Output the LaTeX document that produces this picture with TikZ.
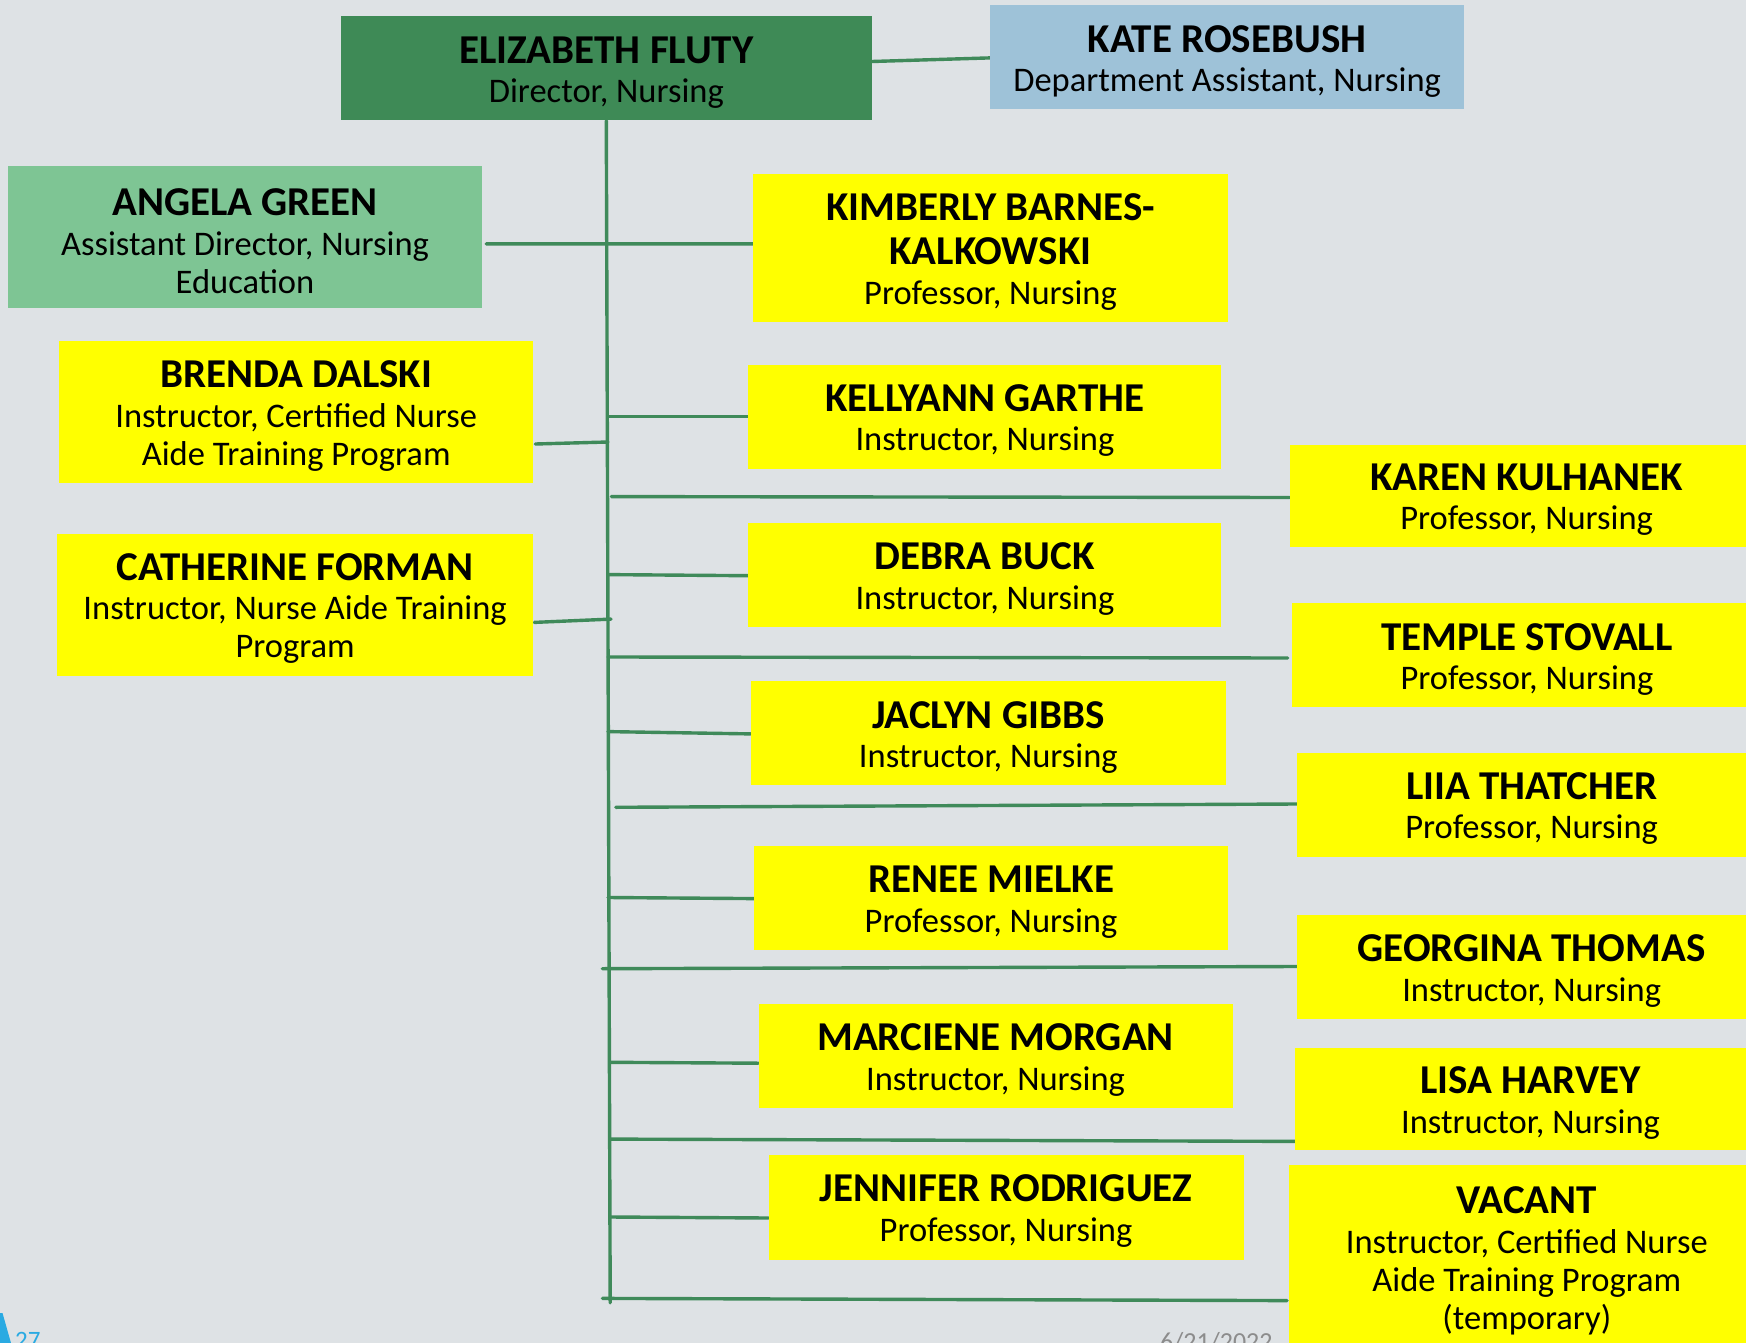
\documentclass[tikz,border=0pt]{standalone}
\usepackage{fontspec}
\setmainfont{Carlito}
\usetikzlibrary{positioning}

\definecolor{pagebg}{HTML}{DEE2E5}
\definecolor{darkgreen}{HTML}{3E8A56}
\definecolor{softgreen}{HTML}{7EC594}
\definecolor{softblue}{HTML}{9EC2D8}
\definecolor{linkgreen}{HTML}{3F8A5A}
\definecolor{boxyellow}{HTML}{FFFF00}
\definecolor{accentblue}{HTML}{2AAAE2}
\definecolor{dategray}{HTML}{8C8C8C}

\newcommand\namefont{\fontsize{41}{44}\selectfont\bfseries}
\newcommand\subfont{\fontsize{34.5}{38}\selectfont}
% name line with a strut on top so the text block sits a little lower
\newcommand\pname[1]{{\namefont\rule{0pt}{35pt}#1}\\[1.5pt]}

\pgfdeclarelayer{bg}
\pgfdeclarelayer{links}
\pgfsetlayers{bg,links,main}

\tikzset{
  card/.style={rectangle, inner sep=0pt, align=center, text=black, font=\subfont},
  ycard/.style={card, fill=boxyellow},
  link/.style={draw=linkgreen, line width=3.4pt, line cap=round},
}

\begin{document}
\begin{tikzpicture}[x=1pt, y=-1pt]
  \useasboundingbox (0,0) rectangle (1746,1343);
  \clip (0,0) rectangle (1746,1343);
  \begin{pgfonlayer}{bg}
    \fill[pagebg] (0,0) rectangle (1746,1343);
  \end{pgfonlayer}

  % top of the chart
  \node[card, fill=darkgreen, minimum width=531pt, minimum height=104pt] (eliz) at (606.3,68.5)
    {\pname{ELIZABETH FLUTY}Director, Nursing};
  \node[card, fill=softblue, minimum width=474pt, minimum height=104pt] (kate) at (1227.1,57.4)
    {\pname{KATE ROSEBUSH}Department Assistant, Nursing};
  \node[card, fill=softgreen, minimum width=474pt, minimum height=142pt] (angela) at (245,237.2)
    {\pname{ANGELA GREEN}Assistant Director, Nursing\\Education};

  % left column
  \node[ycard, minimum width=474pt, minimum height=142pt] (brenda) at (296.2,412)
    {\pname{BRENDA DALSKI}Instructor, Certified Nurse\\Aide Training Program};
  \node[ycard, minimum width=476pt, minimum height=142pt] (catherine) at (295.1,604.7)
    {\pname{CATHERINE FORMAN}Instructor, Nurse Aide Training\\Program};

  % middle column
  \node[ycard, minimum width=475pt, minimum height=148pt] (kimberly) at (990.5,247.8)
    {{\namefont\rule{0pt}{35pt}KIMBERLY BARNES-}\\[6pt]{\namefont KALKOWSKI}\\[1.5pt]Professor, Nursing};
  \node[ycard, minimum width=473pt, minimum height=104pt] (kellyann) at (984.9,416.5)
    {\pname{KELLYANN GARTHE}Instructor, Nursing};
  \node[ycard, minimum width=473pt, minimum height=104pt] (debra) at (984.9,575.2)
    {\pname{DEBRA BUCK}Instructor, Nursing};
  \node[ycard, minimum width=475pt, minimum height=104pt] (jaclyn) at (988.3,733.3)
    {\pname{JACLYN GIBBS}Instructor, Nursing};
  \node[ycard, minimum width=474pt, minimum height=104pt] (renee) at (991,898)
    {\pname{RENEE MIELKE}Professor, Nursing};
  \node[ycard, minimum width=474pt, minimum height=104pt] (marciene) at (995.5,1056.2)
    {\pname{MARCIENE MORGAN}Instructor, Nursing};
  \node[ycard, minimum width=475pt, minimum height=105pt] (jennifer) at (1006,1207)
    {\pname{JENNIFER RODRIGUEZ}Professor, Nursing};

  % right column
  \node[ycard, minimum width=474pt, minimum height=102pt] (karen) at (1526.6,495.5)
    {\pname{KAREN KULHANEK}Professor, Nursing};
  \node[ycard, minimum width=470pt, minimum height=104pt] (temple) at (1526.9,655.3)
    {\pname{TEMPLE STOVALL}Professor, Nursing};
  \node[ycard, minimum width=469pt, minimum height=104pt] (liia) at (1531.6,804.5)
    {\pname{LIIA THATCHER}Professor, Nursing};
  \node[ycard, minimum width=469pt, minimum height=104pt] (georgina) at (1531.6,967.1)
    {\pname{GEORGINA THOMAS}Instructor, Nursing};
  \node[ycard, minimum width=471pt, minimum height=102pt] (lisa) at (1530.5,1099)
    {\pname{LISA HARVEY}Instructor, Nursing};
  \node[ycard, minimum width=475pt, minimum height=185pt] (vacant) at (1526.8,1257)
    {\pname{VACANT}Instructor, Certified Nurse\\Aide Training Program\\(temporary)};

  % trunk and branch points
  \coordinate (trunkend) at (610.2,1302.8);
  \coordinate (t-brenda)    at (608,442);
  \coordinate (t-catherine) at (611,619.1);
  \coordinate (t-kellyann)  at (608,416.5);
  \coordinate (t-debra)     at (608,574.6);
  \coordinate (t-jaclyn)    at (608,731.6);
  \coordinate (t-renee)     at (608,897.5);
  \coordinate (t-marciene)  at (610,1062.3);
  \coordinate (t-jennifer)  at (610,1217);
  \coordinate (t-karen)     at (611.3,496.6);
  \coordinate (t-temple)    at (608,657);
  \coordinate (t-liia)      at (615.8,807.3);
  \coordinate (t-georgina)  at (602.4,968.7);
  \coordinate (t-lisa)      at (611.3,1139.1);
  \coordinate (t-vacant)    at (602.4,1298.4);

  \begin{pgfonlayer}{links}
    \draw[link] ([yshift=7pt]eliz.east) -- ([yshift=-0.5pt]kate.west);
    \draw[link] (eliz.south) -- (trunkend);
    \draw[link] ([xshift=4pt,yshift=-6.7pt]angela.east) -- ([yshift=3.9pt]kimberly.west);
    \draw[link] ([xshift=2pt,yshift=-32pt]brenda.east) -- (t-brenda);
    \draw[link] ([xshift=1pt,yshift=-17.7pt]catherine.east) -- (t-catherine);
    \draw[link] (t-kellyann) -- (kellyann.west);
    \draw[link] (t-debra) -- ([yshift=-0.5pt]debra.west);
    \draw[link] (t-jaclyn) -- ([yshift=-0.6pt]jaclyn.west);
    \draw[link] (t-renee) -- ([yshift=-0.6pt]renee.west);
    \draw[link] (t-marciene) -- ([yshift=-7pt]marciene.west);
    \draw[link] (t-jennifer) -- ([yshift=-11pt]jennifer.west);
    \draw[link] (t-karen) -- ([yshift=-2pt]karen.west);
    \draw[link] (t-temple) -- ([xshift=-4pt,yshift=-2.7pt]temple.west);
    \draw[link] (t-liia) -- ([yshift=0.5pt]liia.west);
    \draw[link] (t-georgina) -- ([yshift=0.6pt]georgina.west);
    \draw[link] (t-lisa) -- ([yshift=-42.4pt]lisa.west);
    \draw[link] (t-vacant) -- ([xshift=-2pt,yshift=-43.6pt]vacant.west);
  \end{pgfonlayer}

  % footer
  \fill[accentblue] (0,1313) -- (2.5,1313) -- (11,1343) -- (0,1343) -- cycle;
  \node[anchor=north west, inner sep=0pt, text=accentblue, font=\fontsize{25}{25}\selectfont] (pagenum) at (15,1332) {27};
  \node[anchor=north west, inner sep=0pt, text=dategray, font=\fontsize{26}{26}\selectfont] (datestamp) at (1160,1332) {6/21/2022};
\end{tikzpicture}
\end{document}
